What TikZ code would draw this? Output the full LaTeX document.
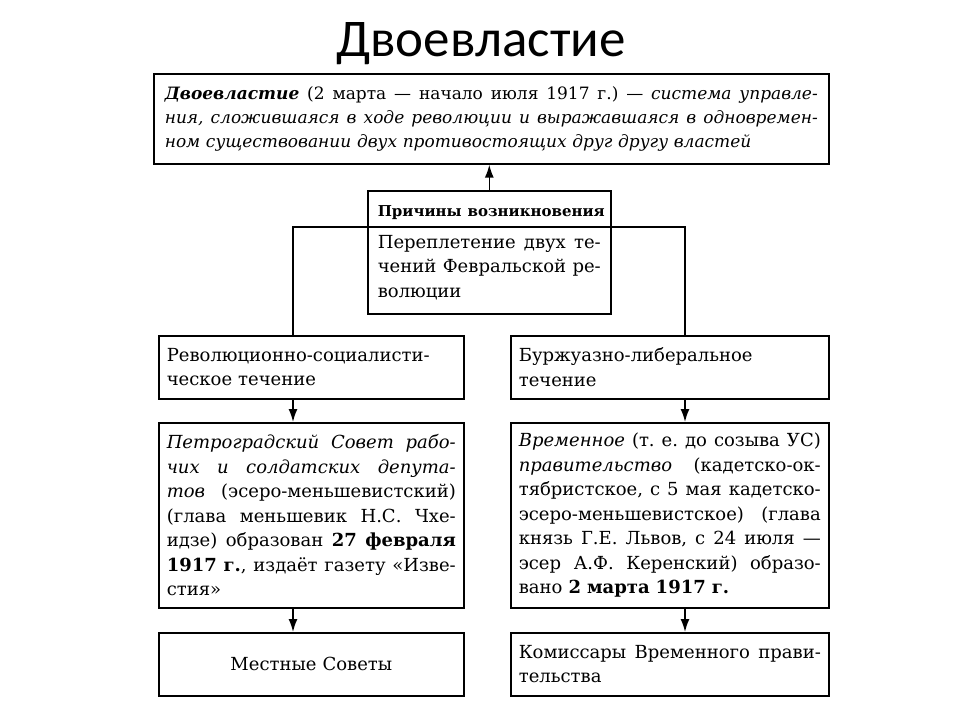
\documentclass[tikz,border=0pt]{standalone}
\usepackage{fontspec}
\setmainfont{DejaVu Serif}
\newfontfamily\titlefont{Carlito}
\usetikzlibrary{arrows.meta}
\frenchspacing
\newcommand\jl[1]{\hbox to\hsize{\spaceskip=0.25em plus 1fil\xspaceskip=\spaceskip #1}}
\newcommand\lastln[1]{\hbox to\hsize{#1\hfil}}
\newcommand\ctrln[1]{\hbox to\hsize{\hfil#1\hfil}}
\begin{document}
\begin{tikzpicture}[x=1pt,y=-1pt,
  box/.style={draw, line width=1.6pt, anchor=north west, inner ysep=0pt, inner xsep=#1,
    font=\fontsize{18}{24.5}\selectfont},
  box/.default=8pt,
  conn/.style={line width=1.6pt},
  arr/.style={line width=1.6pt, -{Latex[length=13pt,width=9pt]}}]
\useasboundingbox[fill=white] (0,0) rectangle (960,720);
\node[font=\titlefont\fontsize{53}{60}\selectfont, anchor=base] (title) at (481,56) {Двоевластие};

\node[box=11pt, minimum width=675, text width=653, minimum height=90,
  font=\fontsize{17}{24}\selectfont] (top) at (153,73) {%
\jl{\textbf{\textit{Двоевластие}} (2 марта — начало июля 1917 г.) — \textit{система управле-}}
\jl{\textit{ния, сложившаяся в ходе революции и выражавшаяся в одновремен-}}
\lastln{\textit{ном существовании двух противостоящих друг другу властей}}};

\node[box=10pt, minimum width=243, text width=223, minimum height=123] (cause) at (367,190) {%
\ctrln{\fontsize{15}{18}\selectfont\bfseries Причины возникновения}
\vskip 7.5pt
\jl{Переплетение двух те-}
\jl{чений Февральской ре-}
\lastln{волюции}};

\node[box, minimum width=305, text width=289, minimum height=63] (lrev) at (158,335) {%
\lastln{Революционно-социалисти-}
\lastln{ческое течение}};
\node[box, minimum width=318, text width=302, minimum height=63] (rbur) at (510,335) {%
\lastln{Буржуазно-либеральное}
\lastln{течение}};

\node[box, minimum width=305, text width=289, minimum height=185] (lsov) at (158,422) {%
\jl{\textit{Петроградский Совет рабо-}}
\jl{\textit{чих и солдатских депута-}}
\jl{\textit{тов} (эсеро-меньшевистский)}
\jl{(глава меньшевик Н.С. Чхе-}
\jl{идзе) образован \textbf{27 февраля}}
\jl{\textbf{1917 г.}, издаёт газету «Изве-}
\lastln{стия»}};
\node[box, minimum width=318, text width=302, minimum height=185] (rgov) at (510,422) {%
\jl{\textit{Временное} (т. е. до созыва УС)}
\jl{\textit{правительство} (кадетско-ок-}
\jl{тябристское, с 5 мая кадетско-}
\jl{эсеро-меньшевистское) (глава}
\jl{князь Г.Е. Львов, с 24 июля —}
\jl{эсер А.Ф. Керенский) образо-}
\lastln{вано \textbf{2 марта 1917 г.}}};

\node[box, minimum width=305, text width=289, minimum height=63] (lmest) at (158,632) {%
\ctrln{Местные Советы}};
\node[box, minimum width=318, text width=302, minimum height=63] (rkom) at (510,632) {%
\jl{Комиссары Временного прави-}
\lastln{тельства}};

\coordinate (jl) at (293,227);
\coordinate (jr) at (685,227);
\draw[conn] (lrev.north -| jl) -- (jl) -- (jr) -- (rbur.north -| jr);
\draw[arr] (cause.north) -- (cause.north |- top.south);
\draw[arr] (lrev.south -| jl) -- (lsov.north -| jl);
\draw[arr] (rbur.south -| jr) -- (rgov.north -| jr);
\draw[arr] (lsov.south -| jl) -- (lmest.north -| jl);
\draw[arr] (rgov.south -| jr) -- (rkom.north -| jr);
\end{tikzpicture}
\end{document}
